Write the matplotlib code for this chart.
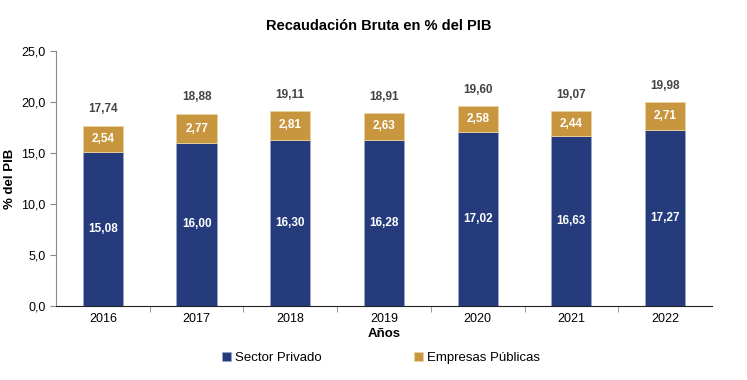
import matplotlib
matplotlib.use("Agg")
import matplotlib.pyplot as plt
from matplotlib.ticker import FixedLocator, FuncFormatter

years = ["2016", "2017", "2018", "2019", "2020", "2021", "2022"]
sector_privado = [15.08, 16.00, 16.30, 16.28, 17.02, 16.63, 17.27]
empresas_publicas = [2.54, 2.77, 2.81, 2.63, 2.58, 2.44, 2.71]
totales = [17.74, 18.88, 19.11, 18.91, 19.60, 19.07, 19.98]

plt.rcParams['font.family'] = ['Liberation Sans', 'DejaVu Sans']

navy = "#253B7C"
gold = "#C8963E"

fig = plt.figure(figsize=(7.47, 3.8), dpi=100)
ax = fig.add_axes([0.075, 0.195, 0.878, 0.671])

x = list(range(len(years)))
w = 0.43
ax.bar(x, sector_privado, width=w, color=navy, edgecolor="#9AA7C8", linewidth=0.6, label="Sector Privado")
ax.bar(x, empresas_publicas, width=w, bottom=sector_privado, color=gold, edgecolor="#EAD39E", linewidth=0.6, label="Empresas Públicas")

fmt = lambda v: f"{v:.2f}".replace(".", ",")
for i in x:
    ax.text(i, sector_privado[i] / 2, fmt(sector_privado[i]), ha="center", va="center",
            color="white", fontsize=8.5, fontweight="bold")
    ax.text(i, sector_privado[i] + empresas_publicas[i] / 2, fmt(empresas_publicas[i]), ha="center", va="center",
            color="white", fontsize=8.5, fontweight="bold")
    ax.text(i, totales[i] + 1.0, fmt(totales[i]), ha="center", va="bottom",
            color="#444444", fontsize=8.5, fontweight="bold")

ax.set_xlim(-0.5, len(years) - 0.5)
ax.set_ylim(0, 25)
ax.yaxis.set_major_locator(FixedLocator([0, 5, 10, 15, 20, 25]))
ax.yaxis.set_major_formatter(FuncFormatter(lambda v, p: f"{v:.1f}".replace(".", ",")))
ax.set_xticks(x)
ax.set_xticklabels(years)
ax.set_xticks([i + 0.5 for i in x[:-1]], minor=True)
ax.tick_params(axis="x", which="major", length=0, labelsize=9, pad=5)
ax.tick_params(axis="x", which="minor", length=4, direction="out", color="#888888")
ax.tick_params(axis="y", labelsize=9, length=4, direction="out", color="#888888")

for s in ["top", "right"]:
    ax.spines[s].set_visible(False)
ax.spines["left"].set_color("#888888")
ax.spines["bottom"].set_color("#222222")

ax.set_ylabel("% del PIB", fontsize=9.5, fontweight="bold")
ax.set_xlabel("Años", fontsize=9.5, fontweight="bold", labelpad=2)
fig.suptitle("Recaudación Bruta en % del PIB", x=0.507, y=0.95, fontsize=10.5, fontweight="bold")

fig.legend(loc="lower center", bbox_to_anchor=(0.51, 0.01), ncol=2, frameon=False, fontsize=9.5,
           handlelength=0.7, handleheight=0.7, columnspacing=7, handletextpad=0.3)

fig.savefig("out.png", dpi=100)
